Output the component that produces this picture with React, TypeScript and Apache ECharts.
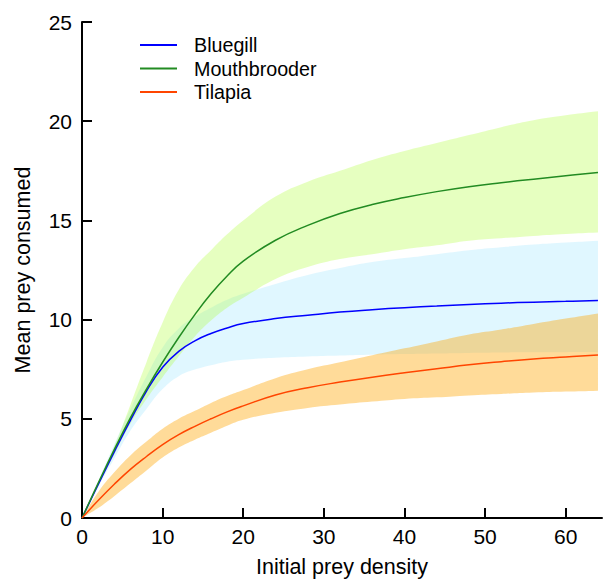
import React, { useEffect, useRef } from "react";
import * as echarts from "echarts";

const xs = [0, 2, 4, 6, 8, 10, 12, 14, 16, 18, 20, 24, 28, 32, 36, 40, 44, 48, 52, 56, 60, 64];

const bluegillMean = [0, 1.68, 3.33, 4.92, 6.4, 7.6, 8.4, 8.93, 9.3, 9.58, 9.8, 10.05, 10.22, 10.38, 10.5, 10.6, 10.68, 10.76, 10.83, 10.88, 10.92, 10.96];
const bluegillUpper = [0, 1.85, 3.7, 5.5, 7.15, 8.6, 9.55, 10.15, 10.6, 11.0, 11.3, 11.8, 12.25, 12.6, 12.9, 13.1, 13.3, 13.5, 13.65, 13.78, 13.88, 13.97];
const bluegillLower = [0, 1.55, 3.0, 4.4, 5.5, 6.5, 7.15, 7.48, 7.7, 7.88, 7.98, 8.08, 8.14, 8.19, 8.23, 8.26, 8.29, 8.32, 8.34, 8.35, 8.36, 8.36];

const mouthMean = [0, 1.75, 3.45, 5.05, 6.5, 7.85, 9.1, 10.25, 11.3, 12.2, 12.95, 14.0, 14.75, 15.35, 15.8, 16.15, 16.45, 16.7, 16.9, 17.08, 17.25, 17.41];
const mouthUpper = [0, 1.8, 3.6, 5.7, 7.85, 9.85, 11.5, 12.65, 13.5, 14.3, 15.0, 16.2, 16.95, 17.5, 18.05, 18.5, 18.9, 19.3, 19.7, 20.05, 20.3, 20.5];
const mouthLower = [0, 1.6, 3.2, 4.75, 6.0, 7.1, 8.15, 9.15, 9.95, 10.6, 11.1, 12.05, 12.65, 13.05, 13.3, 13.55, 13.75, 13.98, 14.1, 14.22, 14.32, 14.39];

const tilapiaMean = [0, 0.88, 1.7, 2.45, 3.1, 3.7, 4.2, 4.62, 5.0, 5.35, 5.65, 6.2, 6.57, 6.85, 7.1, 7.32, 7.52, 7.72, 7.88, 8.02, 8.12, 8.22];
const tilapiaUpper = [0, 1.3, 2.3, 3.15, 3.85, 4.5, 5.0, 5.4, 5.8, 6.15, 6.45, 7.05, 7.5, 7.85, 8.2, 8.55, 8.9, 9.25, 9.5, 9.78, 10.05, 10.31];
const tilapiaLower = [0, 0.5, 1.1, 1.75, 2.4, 3.05, 3.55, 3.95, 4.3, 4.65, 4.95, 5.3, 5.55, 5.72, 5.87, 6.0, 6.08, 6.18, 6.25, 6.32, 6.37, 6.42];

const xTicks = [0, 10, 20, 30, 40, 50, 60];
const seriesNames = ["Bluegill", "Mouthbrooder", "Tilapia"];

const FONT = "Liberation Sans, Arial, Helvetica, sans-serif";

function pairs(vals: number[]) {
  return xs.map((x, i) => [x, vals[i]]);
}

function band(id: string, lower: number[], upper: number[], color: string) {
  return {
    type: "custom",
    name: id,
    data: [[xs[0], lower[0]]],
    encode: { x: 0, y: 1 },
    silent: true,
    clip: true,
    z: 1,
    renderItem: (params: any, api: any) => {
      const pts: number[][] = [];
      const n = xs.length;
      for (let i = 0; i < n; i++) pts.push(api.coord([xs[i], upper[i]]));
      // duplicate corner so the closing edge stays straight
      pts.push(api.coord([xs[n - 1], upper[n - 1]]));
      pts.push(api.coord([xs[n - 1], lower[n - 1]]));
      for (let i = n - 1; i >= 0; i--) pts.push(api.coord([xs[i], lower[i]]));
      return {
        type: "polygon",
        shape: { points: pts, smooth: 0.45 },
        style: { fill: color, stroke: null },
        silent: true,
      };
    },
  };
}

function meanLine(name: string, vals: number[], color: string) {
  return {
    type: "line",
    name,
    data: pairs(vals),
    symbol: "none",
    smooth: 0.45,
    color,
    lineStyle: { color, width: 1.5 },
    z: 3,
  };
}

export default function App() {
  const ref = useRef<HTMLDivElement>(null);
  useEffect(() => {
    if (!ref.current) return;
    document.body.style.margin = "0";
    const chart = echarts.init(ref.current, undefined, { renderer: "svg" });
    chart.setOption({
      animation: false,
      grid: { left: 82, top: 22, right: 2, bottom: 61, containLabel: false, outerBoundsMode: "none" },
      legend: {
        data: seriesNames,
        orient: "vertical",
        left: 139,
        top: 35,
        padding: 0,
        itemWidth: 37,
        itemHeight: 20,
        itemGap: 3.5,
        itemStyle: { opacity: 0 },
        lineStyle: { width: 2 },
        textStyle: { fontSize: 19.7, color: "#000", fontFamily: FONT, padding: [0, 0, 0, 12] },
      },
      xAxis: {
        type: "value",
        min: 0,
        max: 64.5,
        name: "Initial prey density",
        nameLocation: "middle",
        nameGap: 38,
        nameTextStyle: { fontSize: 21.5, color: "#000", fontFamily: FONT },
        axisLine: { show: true, lineStyle: { color: "#000", width: 2 } },
        axisTick: { show: true, inside: true, length: 10, lineStyle: { color: "#000", width: 2 }, customValues: xTicks },
        axisLabel: { fontSize: 21, color: "#000", fontFamily: FONT, margin: 8, customValues: xTicks },
        splitLine: { show: false },
      },
      yAxis: {
        type: "value",
        min: 0,
        max: 25,
        interval: 5,
        name: "Mean prey consumed",
        nameLocation: "middle",
        nameGap: 48,
        nameTextStyle: { fontSize: 21.5, color: "#000", fontFamily: FONT },
        axisLine: { show: true, lineStyle: { color: "#000", width: 2 } },
        axisTick: { show: true, inside: true, length: 10, lineStyle: { color: "#000", width: 2 } },
        axisLabel: { fontSize: 21, color: "#000", fontFamily: FONT, margin: 10 },
        splitLine: { show: false },
      },
      series: [
        band("blueBand", bluegillLower, bluegillUpper, "rgba(0,191,255,0.12)"),
        band("greenBand", mouthLower, mouthUpper, "rgba(173,255,47,0.3)"),
        band("orangeBand", tilapiaLower, tilapiaUpper, "rgba(255,165,0,0.4)"),
        meanLine("Bluegill", bluegillMean, "#0000ff"),
        meanLine("Mouthbrooder", mouthMean, "#228b22"),
        meanLine("Tilapia", tilapiaMean, "#ff4500"),
      ],
    });
    return () => chart.dispose();
  }, []);
  return <div ref={ref} style={{ width: 604, height: 579 }} />;
}
